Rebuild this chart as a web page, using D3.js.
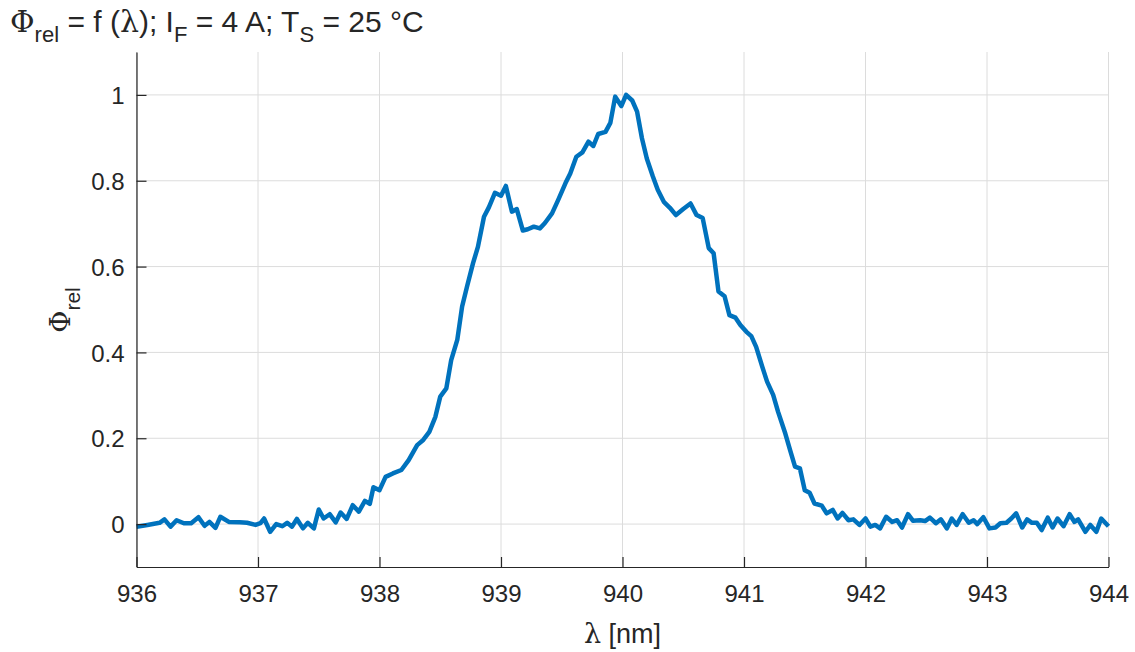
<!DOCTYPE html>
<html>
  <head>
    <meta charset="utf-8">
    <title>Phi rel</title>
    <script src="https://cdn.jsdelivr.net/npm/d3@7/dist/d3.min.js"></script>
    <style>
      body { margin: 0; background: #fff; }
      text { font-family: "Liberation Sans", Arial, sans-serif; fill: #262626; }
      .sym { font-family: "DejaVu Serif", "Liberation Serif", serif; }
    </style>
  </head>
  <body>
    <div id="vis"></div>
    <script>
      // wavelength [nm] and relative flux
      var lambda = [
        936.00, 936.09, 936.19, 936.23, 936.28, 936.33, 936.39, 936.45, 936.51, 936.56,
        936.60, 936.65, 936.69, 936.76, 936.85, 936.91, 936.98, 937.02, 937.05, 937.10,
        937.15, 937.20, 937.24, 937.28, 937.32, 937.37, 937.41, 937.46, 937.50, 937.54,
        937.59, 937.64, 937.68, 937.73, 937.78, 937.83, 937.88, 937.92, 937.95, 938.00,
        938.05, 938.11, 938.18, 938.24, 938.31, 938.36, 938.41, 938.46, 938.50, 938.55,
        938.59, 938.64, 938.68, 938.72, 938.77, 938.81, 938.86, 938.90, 938.95, 939.00,
        939.04, 939.09, 939.13, 939.18, 939.22, 939.27, 939.32, 939.36, 939.42, 939.47,
        939.53, 939.57, 939.62, 939.67, 939.72, 939.76, 939.80, 939.86, 939.90, 939.94,
        939.99, 940.03, 940.08, 940.12, 940.16, 940.20, 940.25, 940.29, 940.34, 940.39,
        940.44, 940.50, 940.56, 940.61, 940.66, 940.71, 940.75, 940.79, 940.84, 940.88,
        940.93, 940.97, 941.02, 941.06, 941.10, 941.15, 941.19, 941.24, 941.28, 941.34,
        941.38, 941.42, 941.46, 941.50, 941.54, 941.58, 941.64, 941.68, 941.73, 941.77,
        941.81, 941.86, 941.90, 941.95, 942.00, 942.04, 942.08, 942.12, 942.17, 942.22,
        942.26, 942.30, 942.35, 942.39, 942.45, 942.49, 942.53, 942.58, 942.62, 942.67,
        942.71, 942.75, 942.80, 942.85, 942.89, 942.92, 942.97, 943.02, 943.07, 943.11,
        943.16, 943.20, 943.24, 943.29, 943.33, 943.37, 943.41, 943.45, 943.50, 943.54,
        943.58, 943.63, 943.68, 943.72, 943.75, 943.81, 943.85, 943.90, 943.94, 944.00
      ];
      var phi = [
        -0.006, -0.002, 0.003, 0.011, -0.006, 0.009, 0.002, 0.002, 0.016, -0.004,
        0.005, -0.009, 0.017, 0.005, 0.004, 0.003, -0.002, 0.002, 0.013, -0.018,
        0.000, -0.005, 0.003, -0.006, 0.012, -0.010, 0.003, -0.010, 0.034, 0.013,
        0.023, 0.004, 0.027, 0.012, 0.044, 0.029, 0.054, 0.047, 0.086, 0.079,
        0.110, 0.118, 0.126, 0.149, 0.184, 0.196, 0.215, 0.250, 0.297, 0.316,
        0.382, 0.429, 0.507, 0.553, 0.608, 0.646, 0.716, 0.738, 0.772, 0.765,
        0.788, 0.728, 0.734, 0.684, 0.687, 0.693, 0.689, 0.701, 0.724, 0.755,
        0.794, 0.817, 0.856, 0.866, 0.891, 0.881, 0.909, 0.914, 0.935, 0.996,
        0.974, 1.000, 0.987, 0.961, 0.899, 0.852, 0.810, 0.779, 0.751, 0.737,
        0.720, 0.734, 0.747, 0.720, 0.713, 0.643, 0.631, 0.542, 0.531, 0.487,
        0.481, 0.464, 0.448, 0.438, 0.413, 0.367, 0.332, 0.301, 0.262, 0.211,
        0.172, 0.134, 0.130, 0.079, 0.073, 0.048, 0.043, 0.025, 0.033, 0.013,
        0.026, 0.009, 0.011, -0.002, 0.013, -0.006, -0.002, -0.010, 0.017, 0.005,
        0.009, -0.008, 0.023, 0.008, 0.009, 0.007, 0.015, 0.002, 0.011, -0.010,
        0.013, -0.002, 0.023, 0.003, 0.009, 0.000, 0.016, -0.010, -0.008, 0.002,
        0.003, 0.013, 0.025, -0.008, 0.011, 0.003, 0.003, -0.014, 0.015, -0.008,
        0.013, -0.005, 0.023, 0.005, 0.011, -0.018, -0.002, -0.018, 0.013, -0.005
      ];
      var xTicks = [936, 937, 938, 939, 940, 941, 942, 943, 944];
      var yTicks = [0, 0.2, 0.4, 0.6, 0.8, 1];

      var W = 1135, H = 652;
      var m = {left: 136.5, right: 1108.5, top: 52, bottom: 567};

      var x = d3.scaleLinear().domain([936, 944]).range([m.left, m.right]);
      var y = d3.scaleLinear().domain([-0.1, 1.1]).range([m.bottom, m.top]);

      var svg = d3.select("#vis").append("svg")
        .attr("width", W).attr("height", H);

      // grid
      svg.append("g").selectAll("line").data(xTicks).enter().append("line")
        .attr("x1", function(d){ return x(d); }).attr("x2", function(d){ return x(d); })
        .attr("y1", m.top).attr("y2", m.bottom)
        .attr("stroke", "#dcdcdc").attr("stroke-width", 1);
      svg.append("g").selectAll("line").data(yTicks).enter().append("line")
        .attr("x1", m.left).attr("x2", m.right)
        .attr("y1", function(d){ return y(d); }).attr("y2", function(d){ return y(d); })
        .attr("stroke", "#dcdcdc").attr("stroke-width", 1);

      // curve
      var pts = lambda.map(function(l, i){ return [l, phi[i]]; });
      svg.append("path").datum(pts)
        .attr("fill", "none").attr("stroke", "#0072BD")
        .attr("stroke-width", 4.5).attr("stroke-linejoin", "round")
        .attr("d", d3.line().x(function(d){ return x(d[0]); }).y(function(d){ return y(d[1]); }));

      // axes, ticks pointing inward
      var xAxis = svg.append("g").attr("transform", "translate(0," + m.bottom + ")")
        .call(d3.axisBottom(x).tickValues(xTicks).tickSize(-10).tickPadding(18).tickSizeOuter(0));
      var yAxis = svg.append("g").attr("transform", "translate(" + m.left + ",0)")
        .call(d3.axisLeft(y).tickValues(yTicks).tickSize(-10).tickPadding(12).tickSizeOuter(0)
          .tickFormat(function(d){ return d3.format("")(+d.toFixed(1)); }));
      [xAxis, yAxis].forEach(function(a){
        a.select(".domain").attr("stroke", "#262626").attr("stroke-width", 1.2);
        a.selectAll(".tick line").attr("stroke", "#262626").attr("stroke-width", 1.2);
        a.selectAll(".tick text").style("font-family", "'Liberation Sans', Arial, sans-serif")
          .style("font-size", "24px").attr("fill", "#262626");
      });
      yAxis.selectAll(".tick text").attr("dy", "0.36em");

      // title
      var t = svg.append("text").attr("x", 10).attr("y", 32).style("font-size", "30px").attr("fill", "#262626");
      t.append("tspan").attr("class", "sym").text("Φ");
      t.append("tspan").attr("dy", 10).style("font-size", "22px").text("rel");
      t.append("tspan").attr("dy", -10).text(" = f (");
      t.append("tspan").attr("class", "sym").text("λ");
      t.append("tspan").text("); I");
      t.append("tspan").attr("dy", 10).style("font-size", "22px").text("F");
      t.append("tspan").attr("dy", -10).text(" = 4 A; T");
      t.append("tspan").attr("dy", 10).style("font-size", "22px").text("S");
      t.append("tspan").attr("dy", -10).text(" = 25 °C");

      // x label
      var xl = svg.append("text").attr("x", (m.left + m.right) / 2).attr("y", 643)
        .attr("text-anchor", "middle").style("font-size", "27px");
      xl.append("tspan").attr("class", "sym").text("λ");
      xl.append("tspan").text(" [nm]");

      // y label
      var yl = svg.append("text").attr("transform", "translate(70,310) rotate(-90)")
        .attr("text-anchor", "middle").style("font-size", "27px");
      yl.append("tspan").attr("class", "sym").text("Φ");
      yl.append("tspan").attr("dy", 10).style("font-size", "21px").text("rel");
    </script>
  </body>
</html>
